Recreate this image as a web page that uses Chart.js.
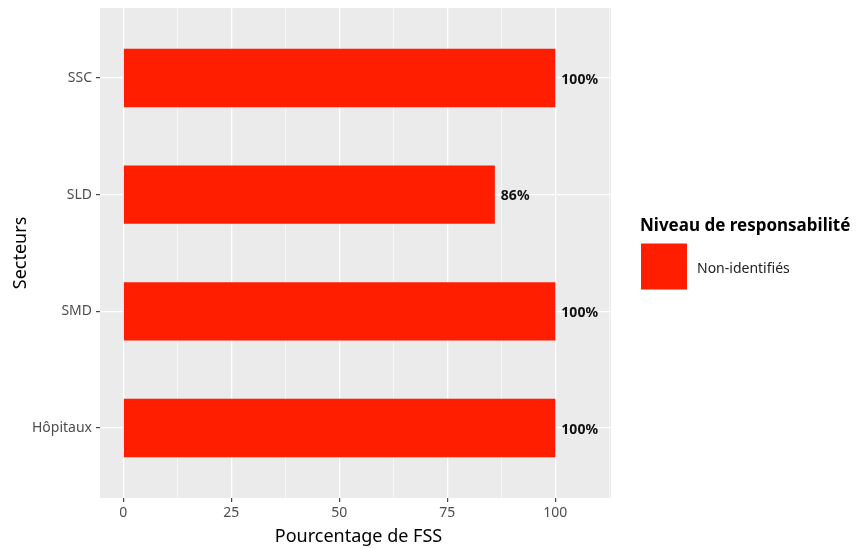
<!DOCTYPE html>
<html>
<head>
<meta charset="utf-8">
<script src="https://cdn.jsdelivr.net/npm/chart.js@4/dist/chart.umd.min.js"></script>
<style>
  html, body { margin: 0; padding: 0; background: #fff; }
  #wrap { width: 856px; height: 548px; position: relative; }
</style>
</head>
<body>
<div id="wrap"><canvas id="c" width="856" height="548"></canvas></div>
<script>
// ---- data ----
const categories = ["Hôpitaux", "SMD", "SLD", "SSC"];   // bottom to top
const values = [100, 100, 86, 100];
const seriesName = "Non-identifiés";
const legendTitle = "Niveau de responsabilité";
const xTickValues = [0, 12.5, 25, 37.5, 50, 62.5, 75, 87.5, 100, 112.5];
const xMajorTicks = [0, 25, 50, 75, 100];
const xTitle = "Pourcentage de FSS";
const yTitle = "Secteurs";

const BAR_COLOR = "#FF1F00";
const FONT = "'Noto Sans', 'Open Sans', sans-serif";

const dataPoints = values.map((v, i) => ({ x: v, y: i + 1 }));

const decorPlugin = {
  id: 'decor',
  beforeDraw(chart) {
    const { ctx, chartArea: a } = chart;
    ctx.save();
    ctx.fillStyle = '#EBEBEB';
    ctx.fillRect(a.left, a.top, a.right - a.left, a.bottom - a.top);
    ctx.restore();
  },
  afterDatasetsDraw(chart) {
    const { ctx, chartArea: a } = chart;
    const meta = chart.getDatasetMeta(0);
    ctx.save();
    ctx.textBaseline = 'alphabetic';
    // data labels
    ctx.font = "bold 14px " + FONT;
    ctx.fillStyle = '#111';
    ctx.textAlign = 'left';
    meta.data.forEach((el, i) => {
      ctx.fillText(values[i] + '%', el.x + 6, el.y + 5.5);
    });
    // axis titles
    ctx.font = "18px " + FONT;
    ctx.fillStyle = '#000';
    ctx.textAlign = 'center';
    ctx.fillText(xTitle, (a.left + a.right) / 2 + 3, 542);
    ctx.save();
    ctx.translate(26, (a.top + a.bottom) / 2);
    ctx.rotate(-Math.PI / 2);
    ctx.fillText(yTitle, 0, 0);
    ctx.restore();
    // legend
    ctx.textAlign = 'left';
    ctx.font = "bold 17px " + FONT;
    ctx.fillStyle = '#000';
    ctx.fillText(legendTitle, 640, 231);
    ctx.fillStyle = chart.data.datasets[0].backgroundColor;
    ctx.fillRect(641, 243.5, 46, 46);
    ctx.font = "14px " + FONT;
    ctx.fillStyle = '#222';
    ctx.fillText(chart.data.datasets[0].label, 697, 273);
    ctx.restore();
  }
};

new Chart(document.getElementById('c'), {
  type: 'bar',
  data: {
    datasets: [{
      label: seriesName,
      data: dataPoints,
      backgroundColor: BAR_COLOR,
      borderWidth: 0,
      barPercentage: 0.5,
      categoryPercentage: 1.0
    }]
  },
  options: {
    indexAxis: 'y',
    responsive: false,
    animation: false,
    devicePixelRatio: 1,
    layout: { padding: { top: 8, right: 245, left: 0, bottom: 0 } },
    plugins: { legend: { display: false }, tooltip: { enabled: false } },
    scales: {
      x: {
        type: 'linear',
        min: -5.375,
        max: 112.875,
        offset: false,
        afterBuildTicks(scale) { scale.ticks = xTickValues.map(v => ({ value: v })); },
        afterFit(scale) { scale.height = 50; scale.paddingLeft = 0; scale.paddingRight = 0; },
        border: { display: false },
        grid: {
          offset: false,
          color: '#FFFFFF',
          lineWidth: (ctx) => xMajorTicks.includes(ctx.tick && ctx.tick.value) ? 1.3 : 0.6,
          drawTicks: true,
          tickLength: 4,
          tickColor: (ctx) => xMajorTicks.includes(ctx.tick && ctx.tick.value) ? '#333333' : 'rgba(0,0,0,0)',
          tickWidth: 1.1
        },
        ticks: {
          autoSkip: false,
          maxRotation: 0,
          padding: 3,
          color: '#4D4D4D',
          font: { family: FONT, size: 14 },
          callback: (v) => xMajorTicks.includes(v) ? String(v) : ''
        }
      },
      y: {
        type: 'linear',
        min: 0.4,
        max: 4.6,
        offset: false,
        afterBuildTicks(scale) { scale.ticks = categories.map((c, i) => ({ value: i + 1 })); },
        afterFit(scale) { scale.width = 100; scale.paddingTop = 0; scale.paddingBottom = 0; },
        border: { display: false },
        grid: {
          offset: false,
          color: '#FFFFFF',
          lineWidth: 1.3,
          drawTicks: true,
          tickLength: 4,
          tickColor: '#333333',
          tickWidth: 1.1
        },
        ticks: {
          autoSkip: false,
          padding: 4,
          color: '#4D4D4D',
          font: { family: FONT, size: 14 },
          callback: (v) => categories[v - 1] || ''
        }
      }
    }
  },
  plugins: [decorPlugin]
});
</script>
</body>
</html>
